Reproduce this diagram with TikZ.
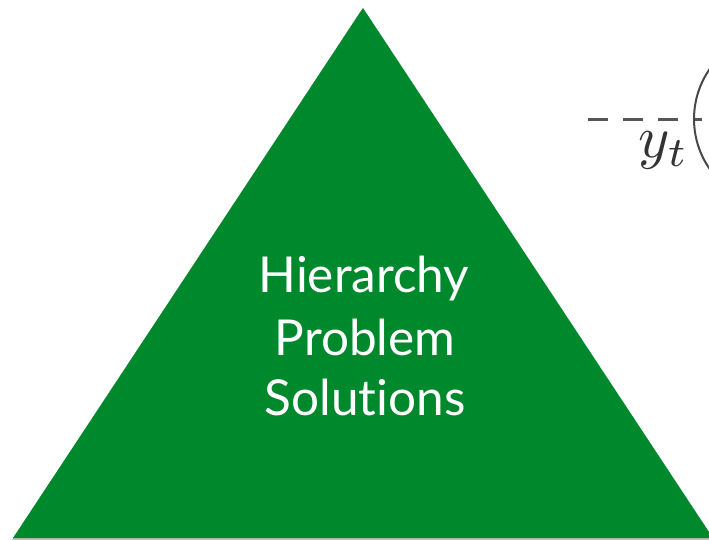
\documentclass[tikz,border=0pt]{standalone}
\usepackage{fontspec}
\newfontfamily\labelfont[Ligatures=NoCommon]{Lato}
\definecolor{pyrgreen}{RGB}{0,136,44}
\definecolor{inkgray}{RGB}{85,85,85}
\tikzset{
  pyramid/.style={fill=pyrgreen, draw=none},
  pyrshadow/.style={fill=black, opacity=0.25, draw=none},
  pyrtext/.style={text=white, inner sep=0pt, anchor=base,
    font=\labelfont\fontsize{49.5bp}{58bp}\selectfont},
  feedline/.style={draw=inkgray, line width=3.2bp, dash pattern=on 20bp off 15bp},
  loopcurve/.style={draw=inkgray!85!black, line width=2bp},
  mathlabel/.style={inner sep=0pt, anchor=base west, scale=6, text=black!80}
}
\begin{document}
\begin{tikzpicture}[x=1bp, y=-1bp]
  \useasboundingbox (0,0) rectangle (709,540);
  \clip (0,0) rectangle (709,540);

  % soft edge under the pyramid
  \path[pyrshadow] (362,9) -- (12,540) -- (713,540) -- cycle;
  % the pyramid itself
  \path[pyramid] (363,8) -- (13,538) -- (713,538) -- cycle;

  % caption inside the pyramid
  \node[pyrtext] (l1) at (364,292) {Hierarchy};
  \node[pyrtext] (l2) at (365,355) {Problem};
  \node[pyrtext] (l3) at (365,415) {Solutions};

  % dashed feed line entering the loop
  \coordinate (feedstart) at (588,119.5);
  \coordinate (feedend) at (702,119.5);
  \draw[feedline] (feedstart) -- (feedend);

  % left side of the loop
  \draw[loopcurve] (781.5,119) ++(140:87.5) arc[start angle=140, end angle=220, radius=87.5];

  % signal label
  \node[mathlabel] (ylab) at (637,158) {$y_t$};
\end{tikzpicture}
\end{document}
